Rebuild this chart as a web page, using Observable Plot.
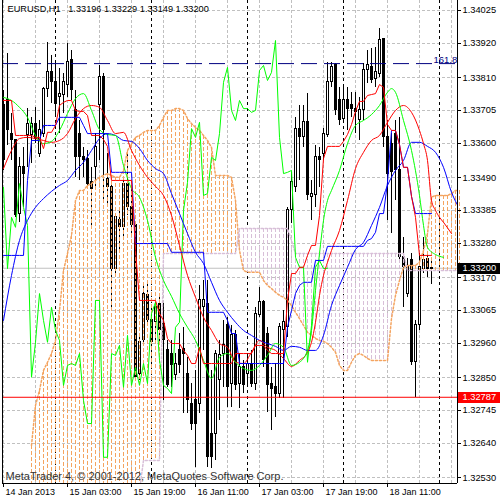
<!DOCTYPE html>
<html><head><meta charset="utf-8">
<script src="https://cdn.jsdelivr.net/npm/d3@7"></script>
<script src="https://cdn.jsdelivr.net/npm/@observablehq/plot@0.6"></script>
<style>html,body{margin:0;padding:0;background:#fff;}</style>
</head><body><div id="chart"></div>
<script>
// ---- DATA (prices in points, 1 point = 0.00001) ----
const openPts = [133721,133737,133631,133609,133375,133523,133625,133625,133663,133567,
133631,133775,133827,133795,133747,133753,133785,133865,133705,133631,
133555,133551,133475,133523,133721,133811,133487,133459,133199,133353,
133331,133471,133395,133337,132863,132969,133113,133033,133027,133087,
133023,132937,132927,132857,132937,132943,132863,132767,132777,132767,
133075,133087,132671,132671,132841,132927,133017,132831,132985,132831,
132883,132863,132895,132831,133049,133091,132991,132831,132819,132799,
133001,133011,133385,133459,133647,133619,133667,133427,133433,133555,
133567,133625,133795,133849,133737,133679,133737,133721,133711,133673,
133705,133833,133843,133807,133823,133935,133619,133599,133631,133513,
133235,133119,133225,132899,133017,133199,133231,133196];
const highPts = [133769,133887,133695,133609,133555,133587,133711,133683,133715,133673,
133779,133923,133881,133855,133839,133823,133919,133897,133769,133673,
133587,133577,133523,133631,133849,133823,133567,133471,133375,133395,
133491,133567,133459,133337,132991,133151,133151,133075,133097,133107,
133087,132969,132969,132927,132991,133011,132915,132831,132873,133145,
133161,133161,132873,132937,132969,133033,133043,133017,133001,132927,
132905,132927,132937,133075,133139,133097,133011,132883,132895,133023,
133065,133395,133507,133683,133721,133721,133759,133481,133593,133587,
133647,133859,133859,133855,133779,133779,133779,133763,133763,133747,
133855,133897,133903,133907,133967,133935,133673,133631,133673,133683,
133299,133231,133247,133033,133247,133299,133247,133229];
const lowPts = [133513,133593,133545,133363,133347,133395,133523,133535,133599,133555,
133619,133747,133727,133683,133631,133695,133747,133737,133491,133481,
133491,133459,133327,133449,133545,133417,133407,133075,133183,133247,
133299,133369,133311,132841,132841,132953,133017,132883,132969,132959,
132777,132819,132819,132841,132863,132735,132735,132681,132563,132735,
132937,132563,132559,132585,132713,132819,132755,132755,132809,132751,
132799,132825,132819,132809,133043,132883,132739,132681,132723,132783,
132783,132979,133343,133443,133481,133587,133417,133353,133395,133459,
133545,133619,133779,133689,133657,133667,133641,133683,133631,133609,
133673,133791,133791,133779,133811,133587,133353,133311,133417,133225,
133075,133107,132889,132787,133001,133183,133171,133149];
const closePts = [133545,133641,133609,133369,133523,133503,133663,133663,133615,133641,
133775,133827,133795,133727,133759,133795,133859,133769,133555,133555,
133545,133471,133455,133587,133811,133641,133459,133199,133363,133331,
133471,133395,133337,132851,132963,133119,133033,132963,133075,133001,
132969,132825,132889,132895,132889,132927,132777,132703,132703,133097,
133097,132595,132595,132927,132921,132953,132819,132985,132825,132883,
132825,132895,132831,133055,133091,132905,132825,132815,132799,133011,
133027,133385,133475,133647,133619,133667,133433,133439,133555,133545,
133631,133795,133843,133705,133673,133737,133711,133711,133699,133705,
133833,133849,133801,133827,133929,133619,133503,133507,133513,133235,
133203,133203,132899,133017,133203,133225,133199,133200];

// Ichimoku: Tenkan-sen and Kijun-sen, one value per bar
const tenkanPts = [133737,133737,133737,133625,133625,133625,133625,133625,133619,133619,
133583,133635,133635,133657,133721,133731,133737,133737,133705,133702,
133702,133689,133625,133625,133625,133612,133590,133481,133481,133481,
133481,133481,133481,133257,133097,133097,133097,133097,133097,133055,
133033,132975,132959,132959,132959,132937,132921,132895,132895,132947,
132895,132895,132895,132895,132895,132895,132895,132895,132927,132927,
132927,132927,132927,132953,132953,132953,132937,132927,132927,132927,
132927,133097,133183,133183,133203,133203,133241,133273,133273,133369,
133551,133590,133590,133590,133590,133606,133628,133660,133702,133734,
133734,133753,133756,133759,133788,133779,133660,133641,133641,133596,
133523,133523,133430,133363,133241,133241,133241,133241];
const kijunPts = [133241,133241,133241,133241,133241,133241,133481,133609,133609,133609,
133657,133657,133657,133657,133683,133683,133683,133683,133683,133683,
133657,133631,133631,133631,133631,133631,133631,133507,133507,133507,
133507,133507,133507,133279,133279,133279,133279,133279,133279,133279,
133279,133279,133251,133251,133251,133251,133251,133251,133251,133251,
133251,133059,133059,133059,133059,133059,133033,132991,132991,132895,
132895,132895,132895,132895,132895,132895,132895,132895,132895,132895,
132895,133011,133065,133119,133145,133155,133155,133155,133225,133225,
133225,133270,133270,133270,133270,133270,133270,133270,133270,133270,
133270,133289,133295,133315,133375,133375,133475,133641,133641,133596,
133523,133523,133430,133375,133375,133375,133375,133375];
// Senkou span A / B as displayed (26 bars ahead), starting at displayed bar 7
const cloudStart = 7;
const senkouAPts = [132633,132761,132809,132873,132899,132927,132969,133065,133193,133247,
133305,133417,133449,133449,133465,133471,133481,133491,133497,133503,
133497,133491,133491,133513,133577,133599,133619,133625,133635,133641,
133641,133641,133657,133683,133705,133705,133711,133711,133705,133679,
133663,133651,133641,133625,133609,133587,133497,133497,133497,133497,
133491,133417,133257,133193,133187,133187,133187,133187,133161,133145,
133135,133123,133113,133107,133097,133081,133059,133039,133017,132995,
132985,132975,132969,132966,132959,132947,132931,132889,132873,132873,
132899,132921,132927,132921,132911,132905,132905,132905,132905,132905,
133039,133113,133161,133203,133209,133209,133209,133219,133257,133311,
133427,133433,133433,133433,133433,133439,133449,133449];
const senkouBPts = [132489,132489,132489,132489,132489,132489,132489,132489,132489,132489,
132489,132489,132489,132489,132489,132489,132489,132489,132489,132489,
132489,132489,132489,132489,132489,132489,132489,132489,132585,132585,
132585,132585,132585,133247,133247,133247,133247,133247,133247,133247,
133247,133247,133247,133247,133247,133247,133247,133247,133247,133247,
133247,133247,133327,133327,133327,133327,133327,133327,133327,133327,
133327,133327,133327,133327,133327,133289,133247,133247,133247,133247,
133247,133247,133247,133247,133247,133247,133247,133247,133247,133247,
133247,133247,133247,133247,133247,133247,133247,133247,133247,133247,
133247,133247,133247,133247,133193,133193,133193,133193,133193,133193,
133193,133193,133193,133193,133193,133193,133193,133193];
// Alligator (already shifted forward): displayed bar -> value
const jawPts = [133033,133177,133289,133353,133395,133423,133446,133465,133481,133513,
133539,133577,133615,133631,133625,133609,133606,133583,133545,133519,
133503,133439,133375,133311,133251,133215,133155,133097,133059,133027,
133001,132985,132969,132959,132950,132937,132950,132947,132937,132937,
132985,133081,133145,133203,133260,133283,133337,133395,133465,133513,
133545,133603,133603,133590,133571,133523,133443,133391];
const teethBars = [0,2,4,6,8,10,12,14,16,18,20,22,24,26,28,30,32,34,36,38,40,42,44,46,48,50,52,54,56,58,60,62,64,66,68,70,72,
74,76,77,78,79,80,81,82,84,86,88,90,92,94,96,98,100,102,104,105,106,107,108,109,110,112];
const teethPts = [133519,133577,133615,133619,133615,133609,133603,133609,133631,133679,133711,133721,133715,133673,133631,133635,133577,133529,133491,133462,
133433,133369,133273,133177,133107,133043,133001,132959,132947,132899,132895,132931,132969,132947,132937,132911,132886,
132905,132931,132963,133027,133113,133177,133219,133257,133321,133417,133519,133571,133609,133625,133667,133705,133721,133699,133641,133599,133545,133417,133385,133363,133347,133311];
const lipsBars = [0,2,4,6,8,10,12,14,16,18,20,22,24,26,28,30,32,34,36,38,40,42,44,46,48,50,52,54,56,58,60,62,64,66,68,70,72,74,76,
77,78,79,80,81,82,84,86,88,90,92,94,96,97,98,100,102,104,105,106,108,110];
const lipsPts = [133747,133737,133715,133683,133625,133599,133606,133641,133695,133743,133759,133705,133644,133628,133625,133529,133455,133427,133353,133235,
133161,133110,133055,133011,132969,132905,132847,132915,132927,132899,132879,132873,132889,132921,132959,132947,132889,132899,132937,
133001,133129,133247,133353,133417,133449,133513,133599,133657,133673,133692,133721,133763,133775,133763,133673,133577,133433,133337,133267,133244,133235];

// axes
const priceTickLabels = ["1.34025","1.33920","1.33810","1.33705","1.33600","1.33490","1.33385","1.33280","1.33170","1.33065","1.32960","1.32850","1.32745","1.32640","1.32530"];
const timeTickBars = [0,16,32,48,64,80,96];
const timeLabels = ["14 Jan 2013","15 Jan 03:00","15 Jan 19:00","16 Jan 11:00","17 Jan 03:00","17 Jan 19:00","18 Jan 11:00"];
const daySeparatorBars = [13,37,61,85,109];
const bidPrice = 1.33200, lowLevel = 1.32787, fiboLevel = 1.33855, fiboLabel = "161.8";
const titleText = "EURUSD,H1\u00a0\u00a0\u00a01.33196 1.33229 1.33149 1.33200";
const copyrightText = "MetaTrader 4, \u00a9 2001-2012, MetaQuotes Software Corp.";

// ---- BUILD ----
const P = v => v / 1e5;
const yMin = 1.32511, yMax = 1.34057, xMin = -0.25, xMax = 113.5;
const ppx = (yMax - yMin) / 483;
const bars = openPts.map((o, i) => ({i, open: P(o), high: P(highPts[i]), low: P(lowPts[i]), close: P(closePts[i])}));
const bull = bars.filter(d => d.close > d.open), bear = bars.filter(d => d.close <= d.open);
const line = (ks, vs) => vs.map((v, j) => ({x: ks[j], y: P(v)}));
const idx = a => a.map((_, i) => i);
const tenkan = line(idx(tenkanPts), tenkanPts);
const kijun = line(idx(kijunPts), kijunPts);
const chikou = bars.filter(d => d.i >= 26).map(d => ({x: d.i - 26, y: d.close}));
const cloud = senkouAPts.map((a, j) => ({x: cloudStart + j, a: P(a), b: P(senkouBPts[j])}));
const upKumo = cloud.filter(d => d.a >= d.b).map(d => ({x: d.x, top: d.a, bot: Math.max(d.b, yMin)}));
const downKumo = cloud.filter(d => d.a < d.b).map(d => ({x: d.x, top: d.b, bot: d.a}));
const jaw = line(d3.range(0, 115, 2), jawPts);
const teeth = line(teethBars, teethPts);
const lips = line(lipsBars, lipsPts);
const gridBars = d3.range(0, 114, 8);
const tickVals = priceTickLabels.map(Number);

const SANDY = "#F4A460", THISTLE = "#D8BFD8";
const crisp = {shapeRendering: "crispEdges"};
const grid = {stroke: "#c0c0c0", strokeDasharray: "3,2", ...crisp};
const chart = Plot.plot({
  width: 500, height: 500,
  marginLeft: 2, marginRight: 43, marginTop: 0, marginBottom: 17,
  x: {domain: [xMin, xMax], axis: null},
  y: {domain: [yMin, yMax], axis: null},
  style: {background: "white", fontFamily: "'Liberation Sans', Arial, sans-serif", fontSize: "9px", color: "black"},
  marks: [
    Plot.ruleY(tickVals, {y: d => d, ...grid}),
    Plot.ruleX(gridBars, {x: d => d, ...grid}),
    Plot.ruleX(daySeparatorBars, {x: d => d, stroke: "black", strokeDasharray: "3,3", ...crisp}),
    Plot.ruleY([bidPrice], {y: d => d, stroke: "#c0c0c0"}),
    // candles
    Plot.ruleX(bars, {x: "i", y1: "low", y2: "high", stroke: "black", ...crisp}),
    Plot.rect(bear, {x1: d => d.i - 0.25, x2: d => d.i + 0.25, y1: "open", y2: "close", fill: "black", stroke: "black", ...crisp}),
    Plot.rect(bull, {x1: d => d.i - 0.25, x2: d => d.i + 0.25, y1: "open", y2: "close", fill: "white", stroke: "black", ...crisp}),
    // kumo hatch
    Plot.ruleX(upKumo, {x: "x", y1: "top", y2: "bot", stroke: SANDY, strokeWidth: 1, strokeDasharray: "4,2", ...crisp}),
    Plot.ruleX(downKumo, {x: "x", y1: "top", y2: "bot", stroke: THISTLE, strokeWidth: 1, strokeDasharray: "4,2", ...crisp}),
    Plot.line(cloud, {x: "x", y: "a", stroke: SANDY, strokeDasharray: "2,2", clip: true}),
    Plot.line(cloud, {x: "x", y: "b", stroke: THISTLE, strokeDasharray: "2,2", clip: true}),
    // lines
    Plot.line(chikou, {x: "x", y: "y", stroke: "#00FF00", strokeWidth: 1, clip: true}),
    Plot.line(jaw, {x: "x", y: "y", stroke: "#0000FF", strokeWidth: 1, curve: "monotone-x", clip: true}),
    Plot.line(teeth, {x: "x", y: "y", stroke: "#FF0000", strokeWidth: 1, curve: "monotone-x", clip: true}),
    Plot.line(lips, {x: "x", y: "y", stroke: "#00FF00", strokeWidth: 1, curve: "monotone-x", clip: true}),
    Plot.line(kijun, {x: "x", y: "y", stroke: "#0000FF", strokeWidth: 1, clip: true}),
    Plot.line(tenkan, {x: "x", y: "y", stroke: "#FF0000", strokeWidth: 1, clip: true}),
    // levels
    Plot.ruleY([lowLevel], {y: d => d, stroke: "#FF0000"}),
    Plot.ruleY([fiboLevel], {y: d => d, stroke: "#000080", strokeDasharray: "16,7"}),
    Plot.text([fiboLabel], {x: 107.5, y: fiboLevel, text: d => d, textAnchor: "start", lineAnchor: "bottom", dy: -1, fill: "#000080", fontSize: 9.5}),
    // frame
    Plot.ruleX([xMin, xMax], {x: d => d, stroke: "black", ...crisp}),
    Plot.ruleY([yMin], {y: d => d, stroke: "black", ...crisp}),
    // right price axis
    Plot.ruleY(tickVals, {y: d => d, x1: xMax, x2: xMax + 1, stroke: "black", ...crisp}),
    Plot.text(priceTickLabels, {x: xMax + 1.25, y: d => +d, text: d => d, textAnchor: "start", fill: "black", fontSize: 9.3}),
    Plot.ruleY([bidPrice], {y: d => d, x1: xMax + 0.25, x2: xMax + 11, stroke: "black", strokeWidth: 11, ...crisp}),
    Plot.text([bidPrice], {x: xMax + 1.25, y: d => d, text: d => d.toFixed(5), textAnchor: "start", fill: "white", fontSize: 9.3}),
    Plot.ruleY([lowLevel], {y: d => d, x1: xMax + 0.25, x2: xMax + 11, stroke: "#FF0000", strokeWidth: 11, ...crisp}),
    Plot.text([lowLevel], {x: xMax + 1.25, y: d => d, text: d => d.toFixed(5), textAnchor: "start", fill: "white", fontSize: 9.3}),
    // bottom time axis
    Plot.ruleX(timeTickBars, {x: d => d, y1: yMin, y2: yMin - 4 * ppx, stroke: "black", ...crisp}),
    Plot.text(timeTickBars, {x: d => d, frameAnchor: "bottom", text: (d, i) => timeLabels[i], textAnchor: "start", lineAnchor: "top", dx: 2, dy: 5, fill: "black", fontSize: 9}),
    // captions
    Plot.text([titleText], {frameAnchor: "top-left", text: d => d, textAnchor: "start", lineAnchor: "top", dx: 5, dy: 5, fill: "black", fontSize: 9.2}),
    Plot.text([copyrightText], {frameAnchor: "bottom-left", text: d => d, textAnchor: "start", lineAnchor: "bottom", dx: 3, dy: -4, fill: "#333333", fontSize: 11})
  ]
});
document.getElementById("chart").appendChild(chart);
</script></body></html>
